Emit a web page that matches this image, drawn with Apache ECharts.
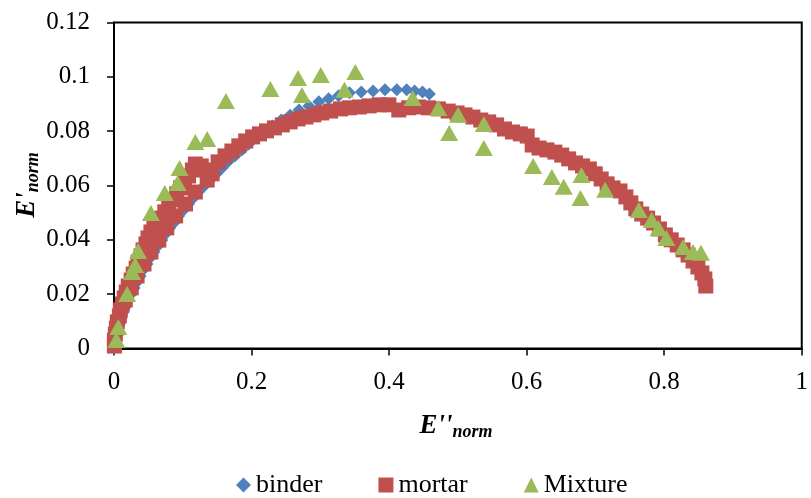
<!DOCTYPE html>
<html>
<head>
<meta charset="utf-8">
<script src="https://cdn.jsdelivr.net/npm/echarts@6/dist/echarts.min.js"></script>
<style>
  html, body { margin: 0; padding: 0; background: #ffffff; }
  #chart { width: 811px; height: 498px; }
</style>
</head>
<body>
<div id="chart"></div>
<script>
// Tick labels of both axes
const xTickLabels = ['0', '0.2', '0.4', '0.6', '0.8', '1'];
const yTickLabels = ['0', '0.02', '0.04', '0.06', '0.08', '0.1', '0.12'];

// Series names, in legend order
const seriesNames = ['binder', 'mortar', 'Mixture'];

// Normalised loss modulus E''norm (x) against storage modulus E'norm (y)
const binderPoints = [
  [0.0000, 0.0002], [0.0006, 0.0024], [0.0020, 0.0046], [0.0049, 0.0068], [0.0078, 0.0090],
  [0.0106, 0.0112], [0.0135, 0.0134], [0.0178, 0.0156], [0.0207, 0.0179], [0.0250, 0.0201],
  [0.0293, 0.0223], [0.0336, 0.0245], [0.0379, 0.0267], [0.0422, 0.0289], [0.0480, 0.0311],
  [0.0523, 0.0333], [0.0580, 0.0355], [0.0637, 0.0377], [0.0695, 0.0399], [0.0752, 0.0422],
  [0.0810, 0.0444], [0.0882, 0.0466], [0.0939, 0.0488], [0.1011, 0.0510], [0.1083, 0.0532],
  [0.1154, 0.0554], [0.1226, 0.0576], [0.1312, 0.0598], [0.1398, 0.0620], [0.1485, 0.0642],
  [0.1571, 0.0664], [0.1657, 0.0687], [0.1757, 0.0709], [0.1858, 0.0731], [0.1958, 0.0753],
  [0.2073, 0.0775], [0.2188, 0.0797], [0.2303, 0.0819], [0.2432, 0.0841], [0.2561, 0.0859],
  [0.2690, 0.0878], [0.2834, 0.0893], [0.2978, 0.0908], [0.3121, 0.0919], [0.3265, 0.0930],
  [0.3423, 0.0941], [0.3595, 0.0944], [0.3767, 0.0948], [0.3940, 0.0952], [0.4112, 0.0952],
  [0.4256, 0.0952], [0.4371, 0.0948], [0.4486, 0.0944], [0.4586, 0.0937]
];

const mortarPoints = [
  [0.0006, 0.0009], [0.0006, 0.0031], [0.0020, 0.0053], [0.0034, 0.0075], [0.0049, 0.0098],
  [0.0078, 0.0120], [0.0092, 0.0142], [0.0121, 0.0164], [0.0149, 0.0186], [0.0178, 0.0208],
  [0.0207, 0.0230], [0.0250, 0.0252], [0.0279, 0.0274], [0.0322, 0.0296], [0.0350, 0.0318],
  [0.0393, 0.0341], [0.0422, 0.0363], [0.0465, 0.0385], [0.0494, 0.0407], [0.0537, 0.0429],
  [0.0580, 0.0451], [0.0637, 0.0466], [0.0695, 0.0480], [0.0738, 0.0503], [0.0795, 0.0525],
  [0.0853, 0.0547], [0.0910, 0.0569], [0.0968, 0.0591], [0.1025, 0.0613], [0.1083, 0.0635],
  [0.1140, 0.0657], [0.1183, 0.0679], [0.1269, 0.0672], [0.1355, 0.0657], [0.1427, 0.0643],
  [0.1513, 0.0687], [0.1614, 0.0709], [0.1714, 0.0727], [0.1815, 0.0746], [0.1915, 0.0764],
  [0.2016, 0.0779], [0.2116, 0.0790], [0.2217, 0.0801], [0.2332, 0.0812], [0.2447, 0.0823],
  [0.2561, 0.0834], [0.2676, 0.0845], [0.2791, 0.0852], [0.2906, 0.0860], [0.3021, 0.0867],
  [0.3150, 0.0874], [0.3293, 0.0882], [0.3423, 0.0886], [0.3566, 0.0889], [0.3710, 0.0893],
  [0.3854, 0.0897], [0.3997, 0.0897], [0.4141, 0.0878], [0.4285, 0.0886], [0.4428, 0.0889],
  [0.4572, 0.0886], [0.4716, 0.0882], [0.4859, 0.0874], [0.4989, 0.0867], [0.5104, 0.0860],
  [0.5219, 0.0852], [0.5333, 0.0841], [0.5448, 0.0834], [0.5563, 0.0823], [0.5678, 0.0808],
  [0.5793, 0.0797], [0.5908, 0.0790], [0.6008, 0.0782], [0.6080, 0.0749], [0.6180, 0.0738],
  [0.6295, 0.0731], [0.6410, 0.0723], [0.6510, 0.0712], [0.6611, 0.0698], [0.6711, 0.0683],
  [0.6812, 0.0672], [0.6912, 0.0661], [0.6998, 0.0643], [0.7084, 0.0624], [0.7170, 0.0606],
  [0.7256, 0.0591], [0.7357, 0.0580], [0.7443, 0.0558], [0.7515, 0.0536], [0.7587, 0.0514],
  [0.7673, 0.0495], [0.7759, 0.0480], [0.7845, 0.0462], [0.7931, 0.0440], [0.8017, 0.0418],
  [0.8103, 0.0400], [0.8189, 0.0381], [0.8275, 0.0363], [0.8347, 0.0344], [0.8419, 0.0322],
  [0.8490, 0.0300], [0.8548, 0.0278], [0.8591, 0.0256], [0.8605, 0.0230],
  // second branch of the loading cycle, slightly to the right on the rising part
  [0.0164, 0.0179], [0.0250, 0.0223], [0.0336, 0.0267], [0.0436, 0.0311], [0.0537, 0.0355],
  [0.0652, 0.0399], [0.0767, 0.0444], [0.0896, 0.0488], [0.1040, 0.0532], [0.1183, 0.0576],
  [0.1355, 0.0620]
];

const mixturePoints = [
  [0.0034, 0.0031], [0.0063, 0.0079], [0.0192, 0.0201], [0.0264, 0.0282], [0.0307, 0.0307],
  [0.0350, 0.0359], [0.0537, 0.0499], [0.0738, 0.0572], [0.0925, 0.0609], [0.0953, 0.0664],
  [0.1183, 0.0760], [0.1355, 0.0771], [0.1628, 0.0911], [0.2274, 0.0955], [0.2676, 0.0996],
  [0.2733, 0.0933], [0.3006, 0.1007], [0.3351, 0.0952], [0.3509, 0.1018], [0.4342, 0.0922],
  [0.4716, 0.0885], [0.5003, 0.0860], [0.4874, 0.0793], [0.5377, 0.0826], [0.5377, 0.0738],
  [0.6094, 0.0672], [0.6367, 0.0631], [0.6539, 0.0595], [0.6797, 0.0639], [0.6783, 0.0554],
  [0.7142, 0.0584], [0.7630, 0.0510], [0.7817, 0.0473], [0.7917, 0.0443], [0.8032, 0.0407],
  [0.8275, 0.0374], [0.8419, 0.0355], [0.8534, 0.0352]
];

const SERIF = '"Liberation Serif", "Times New Roman", serif';

const titleRich = {
  e: { fontFamily: SERIF, fontSize: 27, fontWeight: 'bold', fontStyle: 'italic', fill: '#000', lineHeight: 30 },
  s: { fontFamily: SERIF, fontSize: 18, fontWeight: 'bold', fontStyle: 'italic', fill: '#000', lineHeight: 14, verticalAlign: 'bottom' }
};

const chart = echarts.init(document.getElementById('chart'), null, { renderer: 'canvas' });

chart.setOption({
  animation: false,
  backgroundColor: '#ffffff',
  grid: {
    left: 114, top: 22.5, width: 696, height: 326,
    show: true, borderColor: '#000', borderWidth: 2, backgroundColor: 'transparent'
  },
  xAxis: {
    type: 'value', min: 0, max: 1, interval: 0.2,
    axisLine: { show: true, onZero: false, lineStyle: { color: '#000', width: 2 } },
    axisTick: { show: true, length: 7, lineStyle: { color: '#000', width: 1.5 } },
    splitLine: { show: false },
    axisLabel: {
      margin: 21, color: '#000', fontFamily: SERIF, fontSize: 25,
      formatter: v => xTickLabels[Math.round(v / 0.2)]
    }
  },
  yAxis: {
    type: 'value', min: 0, max: 0.12, interval: 0.02,
    axisLine: { show: true, onZero: false, lineStyle: { color: '#000', width: 2 } },
    axisTick: { show: true, length: 7, lineStyle: { color: '#000', width: 1.5 } },
    splitLine: { show: false },
    axisLabel: {
      margin: 24, color: '#000', fontFamily: SERIF, fontSize: 25,
      formatter: v => yTickLabels[Math.round(v / 0.02)]
    }
  },
  legend: {
    left: 236, top: 472, padding: 0,
    itemWidth: 15, itemHeight: 15, itemGap: 56,
    textStyle: { color: '#000', fontFamily: SERIF, fontSize: 26 },
    data: [
      { name: seriesNames[0], icon: 'diamond' },
      { name: seriesNames[1], icon: 'rect' },
      { name: seriesNames[2], icon: 'triangle' }
    ]
  },
  series: [
    {
      name: seriesNames[0], type: 'scatter', symbol: 'diamond', symbolSize: 13,
      itemStyle: { color: '#4F81BD', opacity: 1 }, data: binderPoints, z: 2
    },
    {
      name: seriesNames[1], type: 'scatter', symbol: 'rect', symbolSize: 15,
      itemStyle: { color: '#C0504D', opacity: 1 }, data: mortarPoints, z: 3
    },
    {
      name: seriesNames[2], type: 'scatter', symbol: 'triangle', symbolSize: [18, 16],
      itemStyle: { color: '#9BBB59', opacity: 1 }, data: mixturePoints, z: 4
    }
  ],
  graphic: [
    {
      type: 'text', x: 456, y: 426,
      style: {
        text: "{e|E''}{s|norm}", rich: titleRich,
        textAlign: 'center', textVerticalAlign: 'middle', align: 'center', verticalAlign: 'middle'
      }
    },
    {
      type: 'text', x: 27, y: 185, rotation: Math.PI / 2,
      style: {
        text: "{e|E'}{s|norm}", rich: titleRich,
        textAlign: 'center', textVerticalAlign: 'middle', align: 'center', verticalAlign: 'middle'
      }
    }
  ]
});
</script>
</body>
</html>
